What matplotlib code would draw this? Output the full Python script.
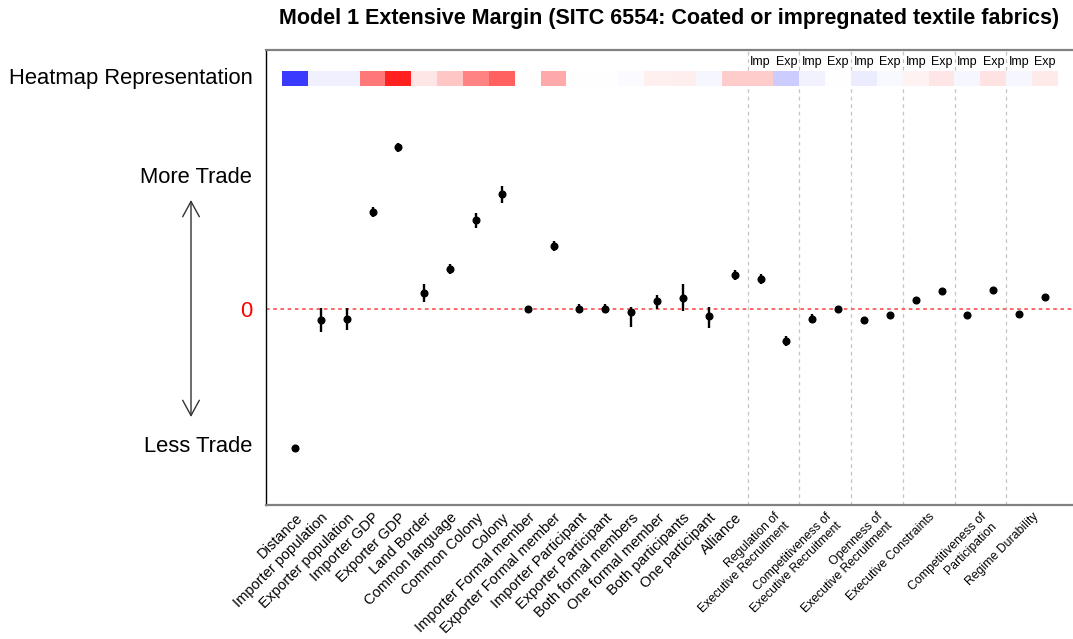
import numpy as np
import matplotlib
matplotlib.use("Agg")
import matplotlib.pyplot as plt

plt.rcParams['font.family'] = ['Liberation Sans', 'DejaVu Sans']

# single variables
single_labels = ["Distance", "Importer population", "Exporter population", "Importer GDP",
                 "Exporter GDP", "Land Border", "Common language", "Common Colony", "Colony",
                 "Importer Formal member", "Exporter Formal member", "Importer Participant",
                 "Exporter Participant", "Both formal members", "One formal member",
                 "Both participants", "One participant", "Alliance"]
# paired (Imp / Exp) polity variables
pair_labels = ["Regulation of\nExecutive Recruitment", "Competitiveness of\nExecutive Recruitment",
               "Openness of\nExecutive Recruitment", "Executive Constraints",
               "Competitiveness of\nParticipation", "Regime Durability"]

coef = [-1.39, -0.11, -0.10, 0.97, 1.62, 0.16, 0.40, 0.89, 1.15, 0.00, 0.63, 0.00, 0.00,
        -0.03, 0.08, 0.11, -0.07, 0.34,
        0.30, -0.32, -0.10, 0.00, -0.11, -0.06, 0.09, 0.18, -0.06, 0.19, -0.05, 0.12]
ci_low = [-1.42, -0.23, -0.21, 0.92, 1.57, 0.07, 0.35, 0.81, 1.06, -0.04, 0.58, -0.04, -0.04,
          -0.18, 0.00, -0.02, -0.19, 0.29,
          0.25, -0.37, -0.14, -0.01, -0.12, -0.07, 0.08, 0.17, -0.07, 0.18, -0.06, 0.11]
ci_high = [-1.36, 0.01, 0.01, 1.02, 1.66, 0.25, 0.45, 0.96, 1.23, 0.03, 0.68, 0.05, 0.05,
           0.02, 0.14, 0.25, 0.02, 0.39,
           0.35, -0.27, -0.05, 0.01, -0.10, -0.05, 0.10, 0.19, -0.05, 0.20, -0.04, 0.13]
# heatmap strip (scaled effect, -1 blue .. 1 red)
heat = [-0.77, -0.06, -0.06, 0.53, 0.87, 0.10, 0.22, 0.48, 0.62, 0.0, 0.33, 0.0, 0.0,
        -0.02, 0.06, 0.07, -0.035, 0.20,
        0.20, -0.20, -0.05, 0.0, -0.075, -0.03, 0.05, 0.10, -0.035, 0.11, -0.035, 0.08]

n = len(coef)
x = np.arange(1, n + 1)
n_single = len(single_labels)
pair_pos = [n_single + 1.5 + 2 * i for i in range(len(pair_labels))]

fig = plt.figure(figsize=(10.73, 6.39), dpi=100)
ax = fig.add_axes([265.5 / 1073, 1 - 505 / 639, 1 - 265.5 / 1073, (505 - 50) / 639])

ax.set_xlim(-0.14, 31.08)
ax.set_ylim(-1.96, 2.59)

# zero line
ax.axhline(0, color="#ff5a5a", linestyle=(0, (2, 2)), linewidth=1.3, zorder=1)

# dividers between pairs
for i in range(len(pair_labels)):
    ax.axvline(n_single + 0.5 + 2 * i, color="#c4c4c4", linestyle=(0, (3, 3)), linewidth=0.9, zorder=0)

# heatmap strip
ax.imshow(np.array(heat)[None, :], cmap="bwr", vmin=-1, vmax=1, aspect="auto",
          extent=(0.5, n + 0.5, 2.23, 2.38), interpolation="nearest", zorder=2)
for i in range(len(pair_labels)):
    ax.text(n_single + 1 + 2 * i, 2.475, "Imp", ha="center", va="center", fontsize=9)
    ax.text(n_single + 2 + 2 * i, 2.475, "Exp", ha="center", va="center", fontsize=9)

# coefficients
c = np.array(coef)
yerr = [c - np.array(ci_low), np.array(ci_high) - c]
ax.errorbar(x, c, yerr=yerr, fmt="o", color="black", markersize=4.8,
            elinewidth=1.7, capsize=0, zorder=3)

# x labels
ax.set_xticks(list(x[:n_single]) + pair_pos)
labels = ax.set_xticklabels(single_labels + pair_labels)
for i, lab in enumerate(labels):
    lab.set_rotation(45)
    lab.set_ha("right")
    lab.set_va("top")
    lab.set_rotation_mode("anchor")
    if i < n_single:
        lab.set_fontsize(10.5)
    else:
        lab.set_fontsize(8.8)
        lab.set_multialignment("right")
ax.tick_params(axis="x", length=0, pad=4)

# y labels
ax.set_yticks([2.33, 1.34, 0, -1.35])
ylabs = ax.set_yticklabels(["Heatmap Representation", "More Trade", "0", "Less Trade"], fontsize=15.8)
ylabs[2].set_color("red")
ax.tick_params(axis="y", length=0, pad=9.5)

# arrow
ax.annotate("", xy=(191 / 1073, -1.08), xytext=(191 / 1073, 1.09),
            xycoords=("figure fraction", "data"), textcoords=("figure fraction", "data"),
            arrowprops=dict(arrowstyle="<->,head_length=1.1,head_width=0.6", color="#333333",
                            linewidth=1, mutation_scale=10, shrinkA=0, shrinkB=0),
            annotation_clip=False)

for side in ["top", "bottom"]:
    ax.spines[side].set_color("#808080")
    ax.spines[side].set_linewidth(1.6)
ax.spines["right"].set_visible(False)
ax.spines["left"].set_color("black")
ax.spines["left"].set_linewidth(1.0)

ax.set_title("Model 1 Extensive Margin (SITC 6554: Coated or impregnated textile fabrics)",
             fontsize=15.5, fontweight="bold", pad=19)

fig.savefig("out.png", dpi=100)
